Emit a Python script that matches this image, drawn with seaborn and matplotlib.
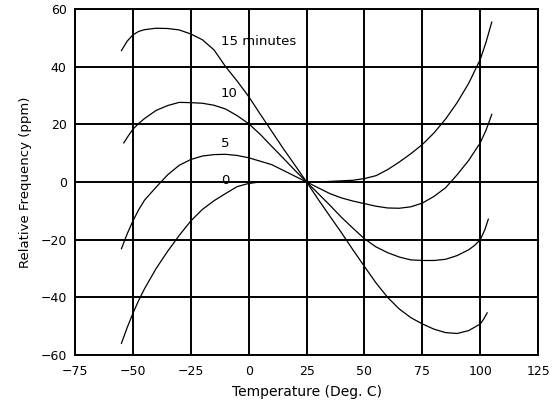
import matplotlib
matplotlib.use("Agg")
import matplotlib.pyplot as plt
import seaborn as sns
import pandas as pd

# ---- data ----
temps_15 = [-55, -52.5, -50, -47.5, -45, -40, -35, -30, -25, -20, -15, -10, -5, 0, 5, 10, 15,
            20, 25, 30, 35, 40, 45, 50, 55, 60, 65, 70, 75, 80, 85, 90, 95, 100, 101.5, 103]
ppm_15 = [45.5, 48.8, 51.0, 52.2, 52.8, 53.3, 53.2, 52.7, 51.3, 49.3, 45.8, 40.0, 35.0, 29.6,
          23.5, 17.5, 11.5, 5.8, 0.0, -6.0, -11.8, -17.5, -23.5, -29.3, -35.0, -40.0, -44.0,
          -47.0, -49.2, -51.0, -52.2, -52.5, -51.5, -49.2, -47.5, -45.3]

temps_10 = [-54, -52, -50, -47.5, -45, -40, -35, -30, -25, -20, -15, -10, -5, 0, 5, 10, 15,
            20, 25, 30, 35, 40, 45, 50, 55, 60, 65, 70, 75, 80, 85, 90, 95, 97.5, 100, 102,
            103.5]
ppm_10 = [13.5, 16.0, 18.3, 20.3, 22.0, 24.8, 26.5, 27.6, 27.5, 27.3, 26.6, 25.3, 23.0, 20.2,
          16.5, 12.3, 8.2, 4.0, 0.0, -4.0, -8.0, -12.2, -16.0, -19.7, -22.5, -24.5, -26.0,
          -27.0, -27.2, -27.2, -26.8, -25.5, -23.5, -22.0, -20.0, -16.5, -12.8]

temps_5 = [-55, -52.5, -50, -47.5, -45, -40, -35, -30, -25, -20, -15, -10, -5, 0, 5, 10, 15,
           20, 25, 30, 35, 40, 45, 50, 55, 60, 65, 70, 75, 80, 85, 90, 95, 100, 102.5, 105]
ppm_5 = [-23.2, -18.0, -13.5, -9.6, -6.3, -1.8, 2.5, 5.8, 7.8, 9.0, 9.5, 9.6, 9.2, 8.4, 7.2,
         6.0, 4.0, 2.0, 0.0, -2.0, -4.0, -5.5, -6.6, -7.5, -8.4, -9.0, -9.1, -8.6, -7.3,
         -5.0, -2.0, 2.5, 7.5, 13.6, 18.0, 23.5]

temps_0 = [-55, -52.5, -50, -47.5, -45, -40, -35, -30, -25, -20, -15, -10, -5, 0, 5, 10, 15,
           20, 25, 30, 35, 40, 45, 50, 55, 60, 65, 70, 75, 80, 85, 90, 95, 100, 102.5, 105]
ppm_0 = [-56.0, -50.5, -45.5, -41.0, -37.0, -30.0, -24.0, -18.5, -13.5, -9.5, -6.5, -4.0,
         -1.6, -0.5, 0.0, 0.0, 0.0, 0.0, 0.0, 0.0, 0.2, 0.4, 0.6, 1.2, 2.2, 4.3, 6.9, 9.8,
         13.0, 17.0, 21.8, 27.5, 34.2, 42.5, 48.5, 55.5]

curve_names = ["15 minutes", "10", "5", "0"]
label_x = [-12, -12, -12, -12]
label_y = [46.5, 28.5, 11.0, -1.8]

x_ticks = [-75, -50, -25, 0, 25, 50, 75, 100, 125]
y_ticks = [-60, -40, -20, 0, 20, 40, 60]

frames = []
for name, t, p in zip(curve_names, [temps_15, temps_10, temps_5, temps_0],
                      [ppm_15, ppm_10, ppm_5, ppm_0]):
    frames.append(pd.DataFrame({"temp": t, "ppm": p, "curve": name}))
df = pd.concat(frames, ignore_index=True)

sns.set_theme(style="white")
plt.rcParams["font.family"] = ["DejaVu Sans"]

fig = plt.figure(figsize=(5.6, 4.04), dpi=100)
ax = fig.add_axes([0.134, 0.121, 0.827, 0.857])

sns.lineplot(data=df, x="temp", y="ppm", hue="curve", units="curve", estimator=None,
             palette=["black"] * 4, legend=False, linewidth=0.9, sort=True, ax=ax)

ax.set_xlim(-75, 125)
ax.set_ylim(-60, 60)
ax.set_xticks(x_ticks)
ax.set_yticks(y_ticks)
ax.set_xticklabels([f"{v}".replace("-", "\u2212") for v in x_ticks], fontsize=9)
ax.set_yticklabels([f"{v}".replace("-", "\u2212") for v in y_ticks], fontsize=9)
ax.tick_params(axis="x", length=0, pad=7, colors="black")
ax.tick_params(axis="y", length=0, pad=6, colors="black")
ax.grid(True, color="black", linewidth=1.4)
for s in ax.spines.values():
    s.set_color("black")
    s.set_linewidth(1.4)
    s.set_visible(True)

ax.set_xlabel("Temperature (Deg. C)", fontsize=10, color="black", labelpad=5)
ax.set_ylabel("Relative Frequency (ppm)", fontsize=9.5, color="black", labelpad=6)

for name, lx, ly in zip(curve_names, label_x, label_y):
    ax.text(lx, ly, name, fontsize=9.5, ha="left", va="bottom", color="black")

fig.savefig("out.png", dpi=100, facecolor="white")
